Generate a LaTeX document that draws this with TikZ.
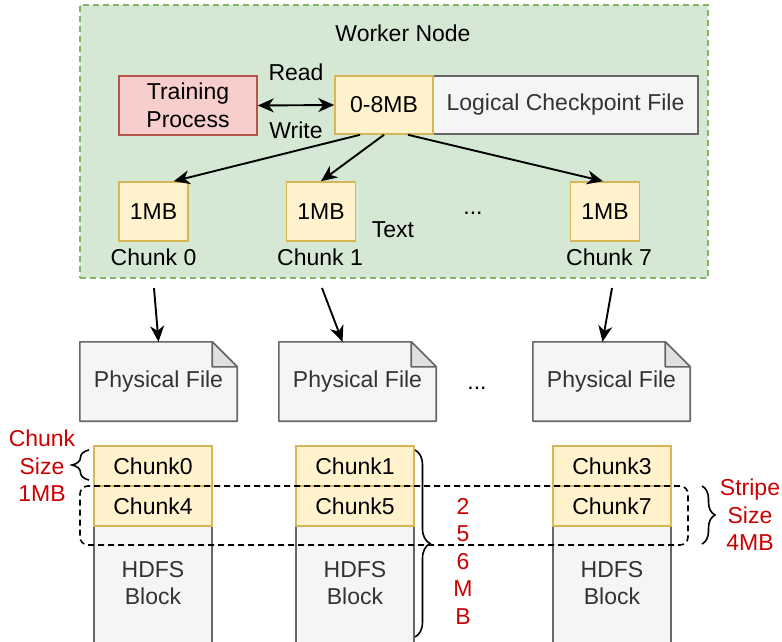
\documentclass[tikz,border=0pt]{standalone}
\usepackage{fontspec}
\setmainfont{Liberation Sans}
\usetikzlibrary{arrows.meta,decorations.pathreplacing,backgrounds}
\definecolor{greenfill}{HTML}{D5E8D4}
\definecolor{greenline}{HTML}{82B366}
\definecolor{redfill}{HTML}{F8CECC}
\definecolor{redline}{HTML}{B85450}
\definecolor{yelfill}{HTML}{FFF2CC}
\definecolor{yelline}{HTML}{D6B656}
\definecolor{grayfill}{HTML}{F5F5F5}
\definecolor{grayline}{HTML}{666666}
\definecolor{graytext}{HTML}{333333}
\definecolor{foldfill}{HTML}{E0E0E0}
\definecolor{redtext}{HTML}{CC0000}
\begin{document}
\begin{tikzpicture}[x=1pt,y=-1pt,
  every node/.style={font=\fontsize{23}{27.5}\selectfont, inner sep=0pt, align=center},
  container/.style={draw=greenline, fill=greenfill, line width=1.6pt, dash pattern=on 6pt off 4pt},
  redbox/.style={draw=redline, fill=redfill, line width=1.6pt},
  yelbox/.style={draw=yelline, fill=yelfill, line width=1.6pt},
  graybox/.style={draw=grayline, fill=grayfill, line width=1.6pt, text=graytext},
  chunkbox/.style={yelbox, minimum width=69pt, minimum height=59pt},
  colbox/.style={yelbox, minimum width=118pt, minimum height=40pt},
  hdfsbox/.style={graybox, minimum width=118pt, minimum height=148pt},
  pfile/.style={minimum width=157pt, minimum height=79pt, text=graytext},
  redlabel/.style={text=redtext},
  tipshape/.tip={Stealth[length=16pt,width=14pt,inset=5pt]},
  arr/.style={line width=1.9pt, -tipshape},
  bracestyle/.style={line width=1.6pt, decorate},
]
\useasboundingbox (0,0) rectangle (782,642);
\clip (0,0) rectangle (782,642);

% Worker node container
\node[container, minimum width=628pt, minimum height=273pt] (worker) at (394,141.5) {};
\node (title) at (403,33) {Worker Node};

\node[redbox, minimum width=138pt, minimum height=59pt] (train) at (188,105.5) {Training\\Process};
\node[graybox, minimum width=265pt, minimum height=58pt] (logical) at (565.5,105) {\raisebox{-2pt}{Logical Checkpoint File}};
\node[yelbox, minimum width=98pt, minimum height=58pt] (mb) at (384,105) {0-8MB};
\node (read) at (296,72) {Read};
\node (write) at (296,130) {Write};
\draw[line width=1.9pt, tipshape-tipshape] (train.east) -- (mb.west);

\node[chunkbox] (c0) at (153.5,211.5) {1MB};
\node[chunkbox] (c1) at (321,211.5) {1MB};
\node[chunkbox] (c7) at (605,211.5) {1MB};
\node (l0) at (153.5,257) {Chunk 0};
\node (l1) at (320,257) {Chunk 1};
\node (l7) at (609,257) {Chunk 7};
\node (txt) at (393,230) {Text};
\node (dotsA) at (473,213) {...};

\draw[arr] ([xshift=-24pt]mb.south) -- ([xshift=-15pt]c0.north east);
\draw[arr] (mb.south) -- (c1.north);
\draw[arr] ([xshift=24pt]mb.south) -- ([xshift=-2pt]c7.north);

% Physical files
\node[pfile] (pf0) at (158.5,381.5) {\raisebox{-2pt}{Physical File}};
\node[pfile] (pf1) at (357.5,381.5) {\raisebox{-2pt}{Physical File}};
\node[pfile] (pf2) at (611.5,381.5) {\raisebox{-2pt}{Physical File}};
\begin{scope}[on background layer]
\foreach \p in {pf0,pf1,pf2}{
  \draw[draw=grayline, fill=grayfill, line width=1.6pt, line join=round]
    (\p.north west) -- ([xshift=-25pt]\p.north east) -- ([yshift=-25pt]\p.north east)
    -- (\p.south east) -- (\p.south west) -- cycle;
  \draw[draw=grayline, fill=foldfill, line width=1.6pt, line join=round]
    ([xshift=-25pt]\p.north east) -- ([xshift=-25pt,yshift=-25pt]\p.north east)
    -- ([yshift=-25pt]\p.north east) -- cycle;
}
\end{scope}
\node (dotsB) at (477,388) {...};

\coordinate (s0) at (154,288);
\coordinate (s1) at (322,288);
\coordinate (s2) at (612,288);
\draw[arr] (s0) -- (pf0.north);
\draw[arr] (s1) -- ([xshift=-15pt]pf1.north);
\draw[arr] (s2) -- ([xshift=-9pt]pf2.north);

% HDFS columns
\node[hdfsbox] (h0) at (153,600) {};
\node[hdfsbox] (h1) at (355,600) {};
\node[hdfsbox] (h2) at (612,600) {};
\node[text=graytext] (h0t) at (153,583) {HDFS\\Block};
\node[text=graytext] (h1t) at (355,583) {HDFS\\Block};
\node[text=graytext] (h2t) at (612,583) {HDFS\\Block};
\node[colbox] (k0) at (153,466) {Chunk0};
\node[colbox] (k4) at (153,506) {Chunk4};
\node[colbox] (k1) at (355,466) {Chunk1};
\node[colbox] (k5) at (355,506) {Chunk5};
\node[colbox] (k3) at (612,466) {Chunk3};
\node[colbox] (k7) at (612,506) {Chunk7};

\node[draw=black, line width=1.6pt, dash pattern=on 6pt off 4pt, rounded corners=8pt,
      minimum width=608pt, minimum height=59pt] (stripe) at (384,515.5) {};

% Braces
\coordinate (b1a) at (415,450); \coordinate (b1b) at (415,637);
\draw[bracestyle, decoration={brace, amplitude=15pt}] (b1a) -- (b1b);
\coordinate (b2a) at (702,486); \coordinate (b2b) at (702,544);
\draw[bracestyle, decoration={brace, amplitude=13pt}] (b2a) -- (b2b);
\coordinate (b3a) at (89,480); \coordinate (b3b) at (89,450);
\draw[bracestyle, decoration={brace, amplitude=17pt}] (b3a) -- (b3b);

\node[redlabel] (size256) at (463,561) {2\\5\\6\\M\\B};
\node[redlabel] (csize) at (42,466) {Chunk\\Size\\1MB};
\node[redlabel] (ssize) at (750,515) {Stripe\\Size\\4MB};
\end{tikzpicture}
\end{document}
